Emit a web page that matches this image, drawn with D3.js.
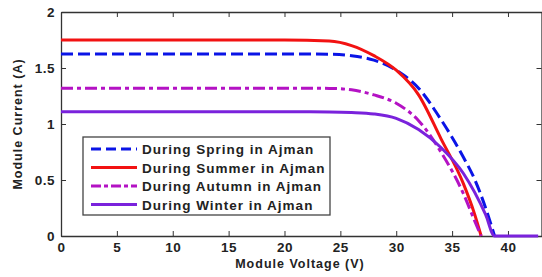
<!DOCTYPE html>
<html>
<head>
<meta charset="utf-8">
<script src="https://cdn.jsdelivr.net/npm/d3@7"></script>
<style>
  body { margin: 0; background: #fff; }
  text { font-family: "Liberation Sans", Arial, sans-serif; }
</style>
</head>
<body>
<script>
// values
const seriesNames = ['During Spring in Ajman', 'During Summer in Ajman', 'During Autumn in Ajman', 'During Winter in Ajman']

const springV = [0, 10, 20, 24, 26, 28, 30, 32, 34, 36, 37, 38, 38.8]
const springI = [1.625, 1.625, 1.625, 1.623, 1.61, 1.57, 1.48, 1.32, 1.04, 0.705, 0.51, 0.25, 0]

const summerV = [0, 10, 20, 24, 26, 28, 30, 32, 34, 36, 37, 37.6]
const summerI = [1.75, 1.75, 1.75, 1.74, 1.70, 1.61, 1.48, 1.26, 0.87, 0.47, 0.20, 0]

const autumnV = [0, 10, 20, 24, 26, 28, 30, 32, 34, 36, 37, 37.6]
const autumnI = [1.32, 1.32, 1.32, 1.318, 1.305, 1.26, 1.185, 1.03, 0.75, 0.38, 0.14, 0]

const winterV = [0, 10, 20, 24, 26, 28, 30, 32, 34, 36, 38, 38.8, 42.7]
const winterI = [1.11, 1.11, 1.11, 1.108, 1.103, 1.09, 1.05, 0.95, 0.79, 0.56, 0.19, 0, 0]

const xTicks = [0, 5, 10, 15, 20, 25, 30, 35, 40]
const yTicks = [0, 0.5, 1, 1.5, 2]

const width = 542
const height = 277
const plotLeft = 61
const plotRight = 541.5
const plotTop = 12
const plotBottom = 236

const svg = d3.select('body').append('svg').attr('width', width).attr('height', height)

const x = d3.scaleLinear().domain([0, 43]).range([plotLeft, plotRight])
const y = d3.scaleLinear().domain([0, 2]).range([plotBottom, plotTop])

const series = [
  {name: seriesNames[0], v: springV, i: springI, color: '#0a14e6', dash: '12,5', legendDash: '10,5'},
  {name: seriesNames[1], v: summerV, i: summerI, color: '#f21212', dash: null, legendDash: null},
  {name: seriesNames[2], v: autumnV, i: autumnI, color: '#b412c4', dash: '12,4,4,4', legendDash: '10,3,4,3'},
  {name: seriesNames[3], v: winterV, i: winterI, color: '#7a22dc', dash: null, legendDash: null}
]

// axes: bottom/left with labels, top/right ticks only
const tickLen = 5
svg.append('g')
  .attr('transform', `translate(0,${plotBottom})`)
  .call(d3.axisBottom(x).tickValues(xTicks).tickSizeInner(-tickLen).tickSizeOuter(0).tickPadding(6).tickFormat(d3.format('d')))
svg.append('g')
  .attr('transform', `translate(${plotLeft},0)`)
  .call(d3.axisLeft(y).tickValues(yTicks).tickSizeInner(-tickLen).tickSizeOuter(0).tickPadding(6).tickFormat(d => d))
svg.append('g')
  .attr('transform', `translate(0,${plotTop})`)
  .call(d3.axisTop(x).tickValues(xTicks).tickSizeInner(-tickLen).tickSizeOuter(0).tickFormat(''))
svg.append('g')
  .attr('transform', `translate(${plotRight},0)`)
  .call(d3.axisRight(y).tickValues(yTicks).tickSizeInner(-tickLen).tickSizeOuter(0).tickFormat(''))

svg.selectAll('.domain').attr('stroke', '#333').attr('stroke-width', 1.3)
svg.selectAll('.tick line').attr('stroke', '#333')
svg.selectAll('.tick text')
  .attr('font-size', 13.5).attr('font-weight', 'bold').attr('fill', '#222')
  .attr('letter-spacing', 0.5)

const line = d3.line()
  .x(d => x(d[0]))
  .y(d => y(d[1]))
  .curve(d3.curveMonotoneX)

svg.append('g').selectAll('path')
  .data(series)
  .enter()
  .append('path')
  .attr('d', s => line(s.v.map((v, k) => [v, s.i[k]])))
  .attr('fill', 'none')
  .attr('stroke', s => s.color)
  .attr('stroke-width', 3)
  .attr('stroke-dasharray', s => s.dash)

// axis titles
svg.append('text')
  .attr('x', 300).attr('y', 268)
  .attr('text-anchor', 'middle')
  .attr('font-size', 12.5).attr('font-weight', 'bold').attr('fill', '#222')
  .attr('letter-spacing', 1)
  .text('Module Voltage (V)')
svg.append('text')
  .attr('transform', `translate(22,${(plotTop + plotBottom) / 2}) rotate(-90)`)
  .attr('text-anchor', 'middle')
  .attr('font-size', 12.5).attr('font-weight', 'bold').attr('fill', '#222')
  .attr('letter-spacing', 1)
  .text('Module Current (A)')

// legend
const legend = svg.append('g').attr('transform', 'translate(83,137)')
legend.append('rect')
  .attr('width', 247).attr('height', 78)
  .attr('fill', '#fff').attr('stroke', '#444').attr('stroke-width', 1.3)

const item = legend.selectAll('g.item')
  .data(series)
  .enter()
  .append('g')
  .attr('transform', (d, k) => `translate(0,${12 + k * 18.5})`)
item.append('line')
  .attr('x1', 8).attr('x2', 54)
  .attr('stroke', d => d.color).attr('stroke-width', 3)
  .attr('stroke-dasharray', d => d.legendDash)
item.append('text')
  .attr('x', 59).attr('y', 5)
  .attr('font-size', 13.5).attr('font-weight', 'bold').attr('fill', '#222')
  .attr('letter-spacing', 1)
  .text(d => d.name)
</script>
</body>
</html>
